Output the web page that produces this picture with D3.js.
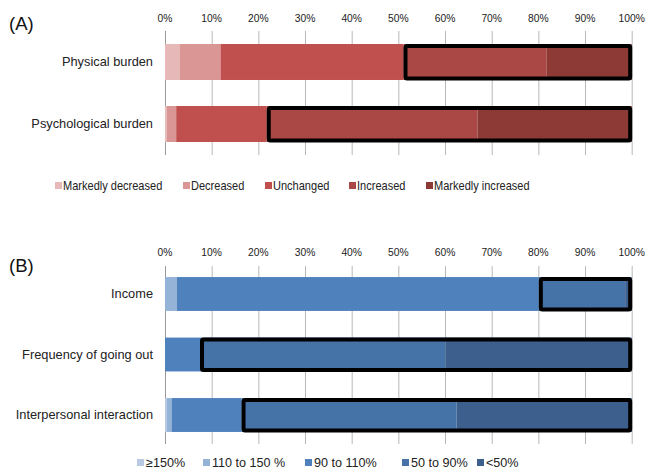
<!DOCTYPE html>
<html><head><meta charset="utf-8">
<script src="https://cdn.jsdelivr.net/npm/d3@7"></script>
<style>body{margin:0;background:#fff}svg{display:block;font-family:"Liberation Sans",Arial,sans-serif}</style>
</head><body><svg id="c" width="646" height="471"></svg>
<script>
const ticks = [0,10,20,30,40,50,60,70,80,90,100];
const burdenCats = ["Physical burden","Psychological burden"];
const burdenKeys = ["Markedly decreased","Decreased","Unchanged","Increased","Markedly increased"];
const physicalBurden = [3.1, 8.8, 39.2, 30.7, 18.2];
const psychologicalBurden = [0.4, 2.0, 19.4, 45.2, 33.0];
const burdenColors = ["#e6b9b8","#d99694","#c0504d","#aa4845","#8d3936"];

const lifeCats = ["Income","Frequency of going out","Interpersonal interaction"];
const lifeKeys = ["\u2265150%","110 to 150 %","90 to 110%","50 to 90%","<50%"];
const income = [0, 2.5, 77.6, 18.5, 1.4];
const goingOut = [0, 0, 7.5, 52.6, 39.9];
const interaction = [0.4, 1.0, 15.0, 46.1, 37.5];
const lifeColors = ["#b9c9e3","#95b3d7","#4f81bd","#4673a7","#3c5f8e"];

const svg = d3.select("#c");
const x = d3.scaleLinear().domain([0,100]).range([165, 631.7]);

function panel(opt){
  const g = svg.append("g");
  const rows = opt.cats.map((c,i)=>{const o={cat:c}; opt.keys.forEach((k,j)=>o[k]=opt.values[i][j]); return o;});
  const y = d3.scaleBand().domain(opt.cats).range(opt.yRange).paddingInner(opt.pad).paddingOuter(opt.pad/2);
  g.append("g").selectAll("text").data(ticks).join("text")
    .attr("x", d=>x(d)).attr("y", opt.tickY).attr("text-anchor","middle")
    .attr("font-size", 10.3).attr("fill","#222").text(d=>d+"%");
  g.append("g").selectAll("line").data(ticks).join("line")
    .attr("x1", d=>x(d)+0.5).attr("x2", d=>x(d)+0.5)
    .attr("y1", opt.grid[0]).attr("y2", opt.grid[1])
    .attr("stroke", d=>d===0?"#999":"#b8b8b8").attr("stroke-width",1);
  const stack = d3.stack().keys(opt.keys)(rows);
  const color = d3.scaleOrdinal().domain(opt.keys).range(opt.colors);
  g.append("g").selectAll("g").data(stack).join("g").attr("fill", d=>color(d.key))
    .selectAll("rect").data(d=>d).join("rect")
    .attr("x", d=>x(d[0])).attr("width", d=>Math.max(0, x(d[1])-x(d[0])))
    .attr("y", d=>y(d.data.cat)).attr("height", y.bandwidth());
  const hs = stack.find(s=>s.key===opt.keys[3]);
  g.append("g").selectAll("rect").data(hs).join("rect")
    .attr("x", d=>x(d[0])+2).attr("width", d=>x(100)-x(d[0])-3.5)
    .attr("y", d=>y(d.data.cat)+2).attr("height", y.bandwidth()-3.5)
    .attr("fill","none").attr("stroke","#000").attr("stroke-width",4).attr("rx",1.5);
  g.append("g").selectAll("text").data(opt.cats).join("text")
    .attr("x", 153).attr("y", d=>y(d)+y.bandwidth()/2).attr("dy","0.35em")
    .attr("text-anchor","end").attr("font-size",12.8).attr("fill","#222").text(d=>d);
  g.append("text").attr("x",9).attr("y",opt.letterY).attr("font-size",18.5).attr("fill","#111").text(opt.letter);
  const lg = g.append("g").selectAll("g").data(opt.keys).join("g")
    .attr("transform",(d,i)=>`translate(${opt.legendX[i]},${opt.legendY})`);
  lg.append("rect").attr("x",0).attr("y",-4).attr("width",7).attr("height",7).attr("fill",d=>color(d));
  lg.append("text").attr("transform",`translate(${opt.legendTextX},0) scale(${opt.legendSX},1)`)
    .attr("dy","0.35em").attr("font-size",opt.legendFS).attr("fill","#222").text(d=>d);
}

panel({cats:burdenCats, keys:burdenKeys, values:[physicalBurden, psychologicalBurden], colors:burdenColors,
  yRange:[31,155], pad:0.42, grid:[31,155], tickY:22, letter:"(A)", letterY:30,
  legendX:[55,183,265,349,426], legendY:186, legendTextX:8, legendFS:12, legendSX:0.92});
panel({cats:lifeCats, keys:lifeKeys, values:[income, goingOut, interaction], colors:lifeColors,
  yRange:[263.75,445.25], pad:0.44, grid:[266,444], tickY:256, letter:"(B)", letterY:272,
  legendX:[137,203,305,402,477], legendY:463, legendTextX:9, legendFS:12.6, legendSX:1});
</script></body></html>
